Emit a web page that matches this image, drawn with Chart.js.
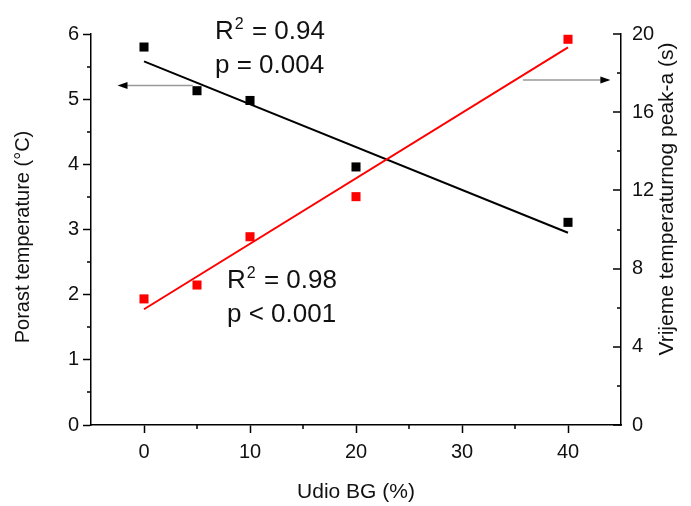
<!DOCTYPE html>
<html><head><meta charset="utf-8">
<script src="https://cdn.jsdelivr.net/npm/chart.js@4/dist/chart.umd.min.js"></script>
<style>html,body{margin:0;padding:0;background:#fff}canvas{display:block}</style>
</head><body>
<canvas id="c" width="691" height="506"></canvas>
<script>
// ---- data ----
const bgShare   = [0, 5, 10, 20, 40];                 // Udio BG (%)
const tempRise  = [5.80, 5.13, 4.98, 3.96, 3.11];     // Porast temperature (°C), left axis
const peakTime  = [6.45, 7.16, 9.63, 11.68, 19.73];   // Vrijeme temperaturnog peak-a (s), right axis
const fitX      = [0, 40];
const tempFit   = [5.58, 2.95];
const timeFit   = [5.92, 19.32];
const xTickVals  = [0, 10, 20, 30, 40];
const xMinorVals = [5, 15, 25, 35];
const yTickVals  = [0, 1, 2, 3, 4, 5, 6];
const yMinorVals = [0.5, 1.5, 2.5, 3.5, 4.5, 5.5];
const y2TickVals = [0, 4, 8, 12, 16, 20];
const y2MinorVals= [2, 6, 10, 14, 18];
const statsTemp = {r2: '0.94', p: 'p = 0.004'};
const statsTime = {r2: '0.98', p: 'p < 0.001'};

const FONT = "'Liberation Sans', Arial, sans-serif";

const toPts = (xs, ys) => xs.map((x, i) => ({x: x, y: ys[i]}));

const extras = {
  id: 'extras',
  afterDraw(chart) {
    const ctx = chart.ctx;
    const x = chart.scales.x, y = chart.scales.y, y2 = chart.scales.y2;
    ctx.save();
    // minor ticks + inward major ticks of the right axis
    ctx.strokeStyle = '#000';
    ctx.lineWidth = 1.5;
    ctx.beginPath();
    xMinorVals.forEach(v => { const px = Math.round(x.getPixelForValue(v)); ctx.moveTo(px, x.top); ctx.lineTo(px, x.top + 4); });
    yMinorVals.forEach(v => { const py = Math.round(y.getPixelForValue(v)); ctx.moveTo(y.right, py); ctx.lineTo(y.right - 4, py); });
    y2MinorVals.forEach(v => { const py = Math.round(y2.getPixelForValue(v)); ctx.moveTo(y2.left, py); ctx.lineTo(y2.left - 4, py); });
    y2TickVals.forEach(v => { const py = Math.round(y2.getPixelForValue(v)); ctx.moveTo(y2.left, py); ctx.lineTo(y2.left - 8, py); });
    ctx.stroke();

    // arrows
    function arrow(x0, x1, py) {
      const a = x.getPixelForValue(x0), b = x.getPixelForValue(x1);
      const dir = Math.sign(b - a);
      ctx.strokeStyle = '#999';
      ctx.lineWidth = 1.5;
      ctx.beginPath(); ctx.moveTo(a, py); ctx.lineTo(b - dir * 8, py); ctx.stroke();
      ctx.fillStyle = '#000';
      ctx.beginPath(); ctx.moveTo(b, py); ctx.lineTo(b - dir * 10, py - 3.5); ctx.lineTo(b - dir * 10, py + 3.5); ctx.closePath(); ctx.fill();
    }
    arrow(4.6, -2.5, y.getPixelForValue(5.21));
    arrow(35.75, 44.0, y2.getPixelForValue(17.65));

    // R² / p annotations
    function stats(xv, yv, s) {
      let px = x.getPixelForValue(xv), py = y.getPixelForValue(yv);
      ctx.fillStyle = '#111';
      ctx.textBaseline = 'alphabetic';
      ctx.textAlign = 'left';
      ctx.font = '26px ' + FONT;
      ctx.fillText('R', px, py);
      const w = ctx.measureText('R').width;
      ctx.font = '16px ' + FONT;
      ctx.fillText('2', px + w + 1, py - 10);
      const w2 = ctx.measureText('2').width;
      ctx.font = '26px ' + FONT;
      ctx.fillText(' = ' + s.r2, px + w + w2 + 2, py);
      ctx.fillText(s.p, px, py + 34);
    }
    stats(6.7, 5.92, statsTemp);
    stats(7.83, 2.10, statsTime);

    // y axis titles (both read bottom-to-top)
    ctx.fillStyle = '#111';
    ctx.textAlign = 'center';
    ctx.textBaseline = 'middle';
    ctx.font = '20px ' + FONT;
    ctx.save(); ctx.translate(23, 237); ctx.rotate(-Math.PI / 2); ctx.fillText('Porast temperature (°C)', 0, 0); ctx.restore();
    ctx.font = '21px ' + FONT;
    ctx.save(); ctx.translate(667, 199); ctx.rotate(-Math.PI / 2); ctx.fillText('Vrijeme temperaturnog peak-a (s)', 0, 0); ctx.restore();
    ctx.restore();
  }
};

const axisCommon = (vals) => ({
  type: 'linear',
  afterBuildTicks: s => { s.ticks = vals.map(v => ({value: v})); },
  grid: {drawOnChartArea: false, drawTicks: true, tickLength: 8, tickColor: '#000', tickWidth: 1.5},
  border: {display: true, color: '#000', width: 1.5},
  ticks: {color: '#111', font: {family: FONT, size: 20}, padding: 4}
});

new Chart(document.getElementById('c'), {
  type: 'scatter',
  data: {
    datasets: [
      {label: 'fitT', type: 'line', data: toPts(fitX, timeFit), yAxisID: 'y2', borderColor: '#ff0000', borderWidth: 2, pointRadius: 0, fill: false},
      {label: 'fitP', type: 'line', data: toPts(fitX, tempFit), yAxisID: 'y', borderColor: '#000', borderWidth: 2, pointRadius: 0, fill: false},
      {label: 'time', data: toPts(bgShare, peakTime), yAxisID: 'y2', pointStyle: 'rect', pointRadius: 6.4, backgroundColor: '#ff0000', borderWidth: 0},
      {label: 'temp', data: toPts(bgShare, tempRise), yAxisID: 'y', pointStyle: 'rect', pointRadius: 6.4, backgroundColor: '#000', borderWidth: 0}
    ]
  },
  options: {
    responsive: false,
    animation: false,
    devicePixelRatio: 1,
    layout: {padding: {top: 34, left: 0, right: 0, bottom: 0}},
    plugins: {legend: {display: false}, tooltip: {enabled: false}},
    scales: {
      x: Object.assign(axisCommon(xTickVals), {
        position: 'bottom', min: -5, max: 45,
        afterFit: s => { s.height = 81; },
        ticks: {color: '#111', font: {family: FONT, size: 20}, padding: 7},
        title: {display: true, text: 'Udio BG (%)', color: '#111', font: {family: FONT, size: 21}, padding: {top: 0, bottom: 1}}
      }),
      y: Object.assign(axisCommon(yTickVals), {
        position: 'left', min: 0, max: 6,
        afterFit: s => { s.width = 91; }
      }),
      y2: Object.assign(axisCommon(y2TickVals), {
        position: 'right', min: 0, max: 20,
        afterFit: s => { s.width = 70; },
        grid: {drawOnChartArea: false, drawTicks: false},
        ticks: {color: '#111', font: {family: FONT, size: 20}, padding: 11}
      })
    }
  },
  plugins: [extras]
});
</script>
</body></html>
